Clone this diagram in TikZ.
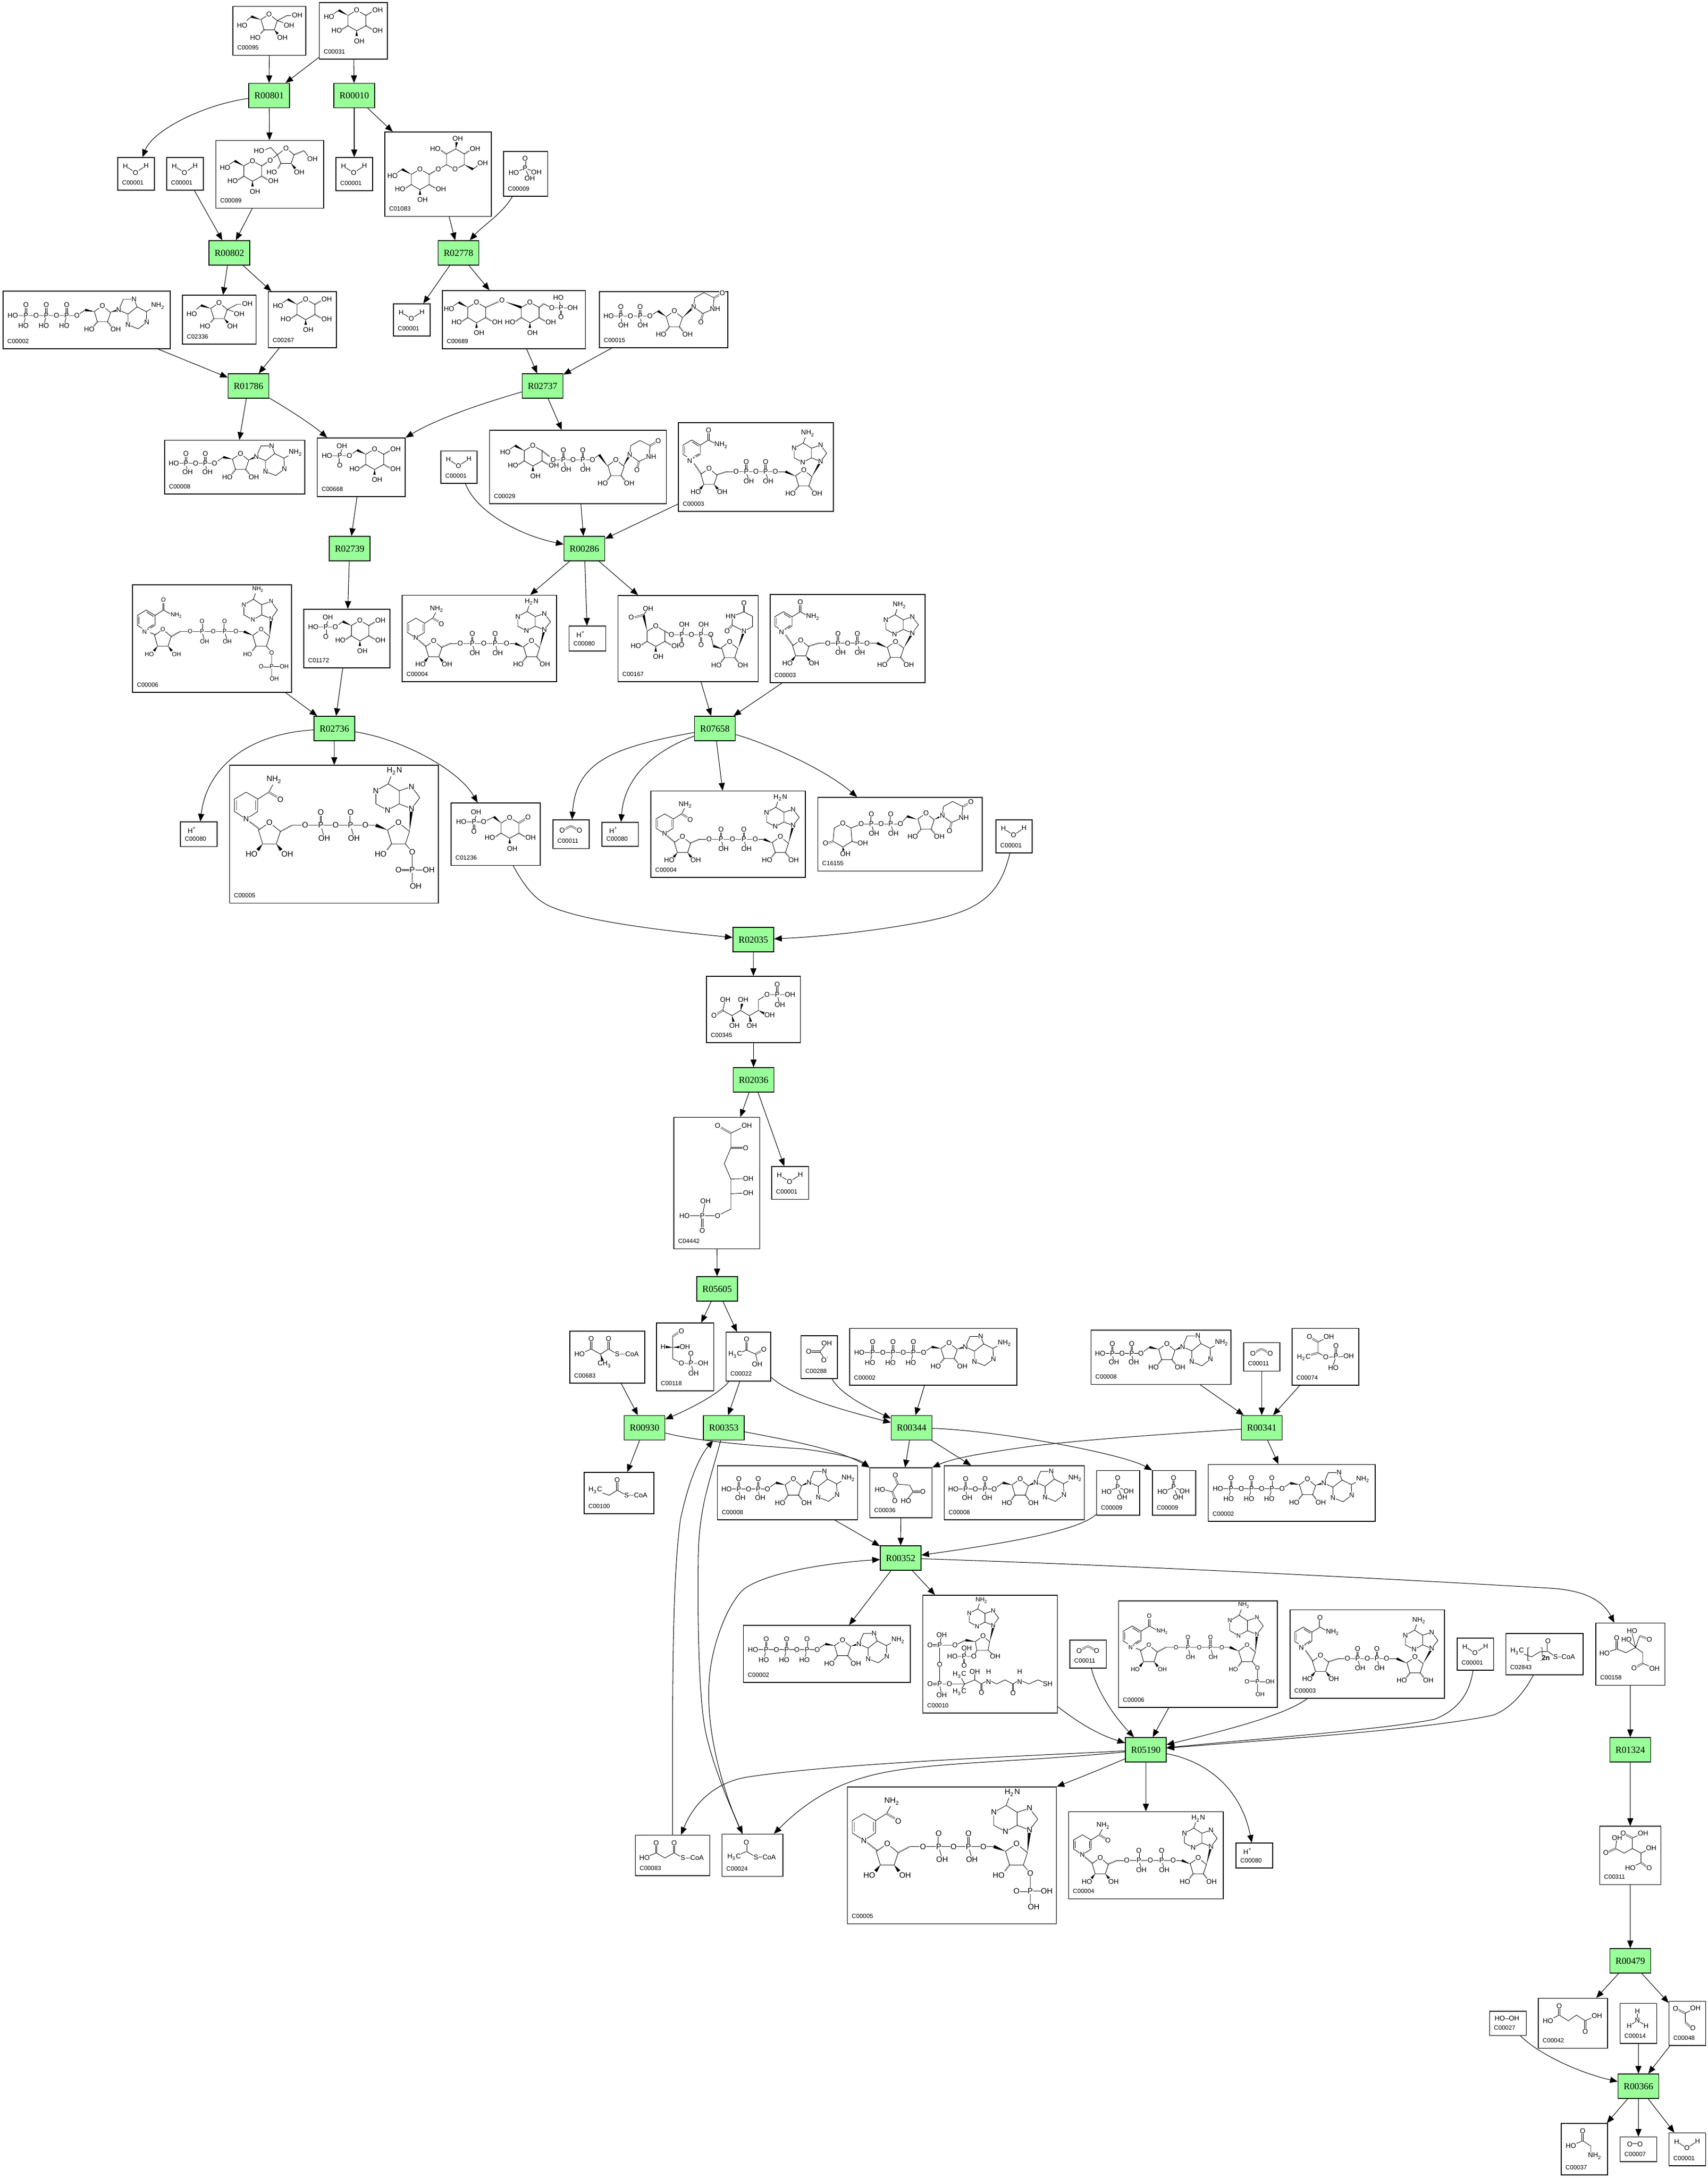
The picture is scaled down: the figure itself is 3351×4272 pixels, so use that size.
\documentclass[tikz,border=0pt]{standalone}
\usepackage{fontspec}
\setmainfont{Liberation Serif}
\setsansfont{Liberation Sans}
\usetikzlibrary{arrows.meta,calc}
\definecolor{rxngreen}{HTML}{99FF99}
\tikzset{
  edge/.style={line width=.3pt,-{Triangle[length=1.5mm,width=1.2mm]}},
  rxn/.style={draw,line width=.4pt,fill=rxngreen,minimum width=.8cm,minimum height=.48cm,inner sep=0pt,font=\fontsize{5.2}{6}\selectfont},
  cpdbox/.style={draw,line width=.4pt,fill=white,inner sep=0pt},
  cpdid/.style={inner sep=0pt,font=\fontsize{3.4}{4}\selectfont\sffamily},
  atom/.style={fill=white,inner sep=.15pt,transform shape,font=\fontsize{3.85}{4}\selectfont\sffamily},
  bnd/.style={line width=.25pt},
  dblb/.style={double,double distance=.5pt,line width=.2pt},
  hashb/.style={line width=.7pt,dash pattern=on .2pt off .3pt}
}
\newcounter{atmno}
\newcommand\atm[2]{\stepcounter{atmno}\node[atom] (atm\arabic{atmno}) at (#1) {#2};}
\newcommand\dbl[2]{\draw[dblb] (#1)--(#2);}
\newcommand\wdg[2]{\fill (#1)--($(#2)!.7pt!90:(#1)$)--($(#2)!.7pt!-90:(#1)$)--cycle;}
\newcommand\hsh[2]{\draw[hashb] (#1)--(#2);}
\newcommand\molin[3]{\begin{scope}[shift={(\bxa,\bya)},xscale={(\bxb-\bxa)/#1},yscale={(\byb-\bya)/#2}]#3\end{scope}}
\newcommand\cpd[7]{%
  \node[cpdbox,minimum width={(#4-#2)*0.01cm},minimum height={(#5-#3)*0.01cm}] (#1) at ({(#2+#4)/2},{(#3+#5)/2}) {};
  \def\bxa{#2}\def\bya{#3}\def\bxb{#4}\def\byb{#5}#7
  \node[cpdid,anchor=base west] (#1id) at ({#2+8},{#5-11}) {#6};}
\newcommand\NHtwo{NH\textsubscript{2}}
\newcommand\HtwoN{H\textsubscript{2}N}
% ring pieces
\newcommand\frGlcC[2]{\begin{scope}[shift={(#1,#2)}]
  \draw[bnd] (0,0)--(18,10)--(18,30)--(0,40)--(-17,30)--(-17,10)--cycle;
  \hsh{18,30}{30,37}\wdg{0,40}{0,50}\hsh{-17,30}{-28,37}
  \atm{0,0}{O}\atm{41,39}{OH}\atm{5,60}{OH}\atm{-39,39}{HO}\end{scope}}
\newcommand\frGlc[2]{\frGlcC{#1}{#2}\begin{scope}[shift={(#1,#2)}]\hsh{18,10}{30,3}\atm{41,0}{OH}\end{scope}}
\newcommand\frChOH[2]{\begin{scope}[shift={(#1,#2)}]\wdg{-17,10}{-35,0}\draw[bnd] (-35,0)--(-45,7);\atm{-54,13}{HO}\end{scope}}
\newcommand\frRibL[3]{\begin{scope}[shift={(#1,#2)}]
  \draw[bnd] (0,0)--(16,13)--(10,31)--(-10,31)--(-16,11)--cycle;
  #3{-10,31}{-17,40}\atm{0,0}{O}\atm{-26,46}{HO}\end{scope}}
\newcommand\frRib[3]{\frRibL{#1}{#2}{#3}\begin{scope}[shift={(#1,#2)}]#3{10,31}{17,40}\atm{26,46}{OH}\end{scope}}
\newcommand\frAdnV[3]{\begin{scope}[shift={(#1,#2)}]
  \draw[bnd] (0,0)--(12,-16)--(0,-32)--(-18,-26)--(-18,-7)--cycle (-18,-26)--(-34,-36)--(-52,-26)--(-52,-7)--(-35,2)--(-18,-7) (-34,-36)--(-30,-47);
  \atm{0,0}{N}\atm{0,-32}{N}\atm{-52,-26}{N}\atm{-35,2}{N}\atm{-25,-55}{#3}\end{scope}}
\newcommand\frAdnH[2]{\begin{scope}[shift={(#1,#2)}]
  \draw[bnd] (0,0)--(9,-21)--(30,-21)--(36,-6)--(18,8)--cycle (36,-6)--(54,3)--(55,24)--(38,37)--(18,29)--(18,8) (54,3)--(67,-4);
  \atm{0,0}{N}\atm{30,-21}{N}\atm{55,24}{N}\atm{18,29}{N}\atm{77,-8}{\NHtwo}\end{scope}}
\newcommand\frUraH[2]{\begin{scope}[shift={(#1,#2)}]
  \draw[bnd] (0,0)--(2,-18)--(20,-28)--(40,-18)--(38,4)--(18,13)--cycle;\dbl{40,-18}{51,-24}\dbl{18,13}{15,25}
  \atm{0,0}{N}\atm{42,4}{NH}\atm{56,-27}{O}\atm{14,30}{O}\end{scope}}
\newcommand\frPP[3]{\begin{scope}[shift={(#1,#2)}]
  \draw[bnd] (0,0)--(#3*77,0) (#3*20,0)--(#3*20+4,14) (#3*58,0)--(#3*58+4,14);\dbl{#3*20,0}{#3*20,-14}\dbl{#3*58,0}{#3*58,-14}
  \atm{0,0}{O}\atm{#3*20,0}{P}\atm{#3*20,-19}{O}\atm{#3*20+5,19}{OH}\atm{#3*39,0}{O}\atm{#3*58,0}{P}\atm{#3*58,-19}{O}\atm{#3*58+5,19}{OH}\atm{#3*77,0}{O}\end{scope}}
\newcommand\frPPr[3]{\begin{scope}[shift={(#1,#2)}]
  \draw[bnd] (0,0)--(#3*77,0) (#3*20,0)--(#3*20+4,-14) (#3*58,0)--(#3*58+4,-14);\dbl{#3*20,0}{#3*20,14}\dbl{#3*58,0}{#3*58,14}
  \atm{0,0}{O}\atm{#3*20,0}{P}\atm{#3*20,20}{O}\atm{#3*20+5,-20}{OH}\atm{#3*39,0}{O}\atm{#3*58,0}{P}\atm{#3*58,20}{O}\atm{#3*58+5,-20}{OH}\atm{#3*77,0}{O}\end{scope}}
\newcommand\frNicOx[2]{\begin{scope}[shift={(#1,#2)}]
  \draw[bnd] (0,0)--(-17,-11)--(-17,-29)--(0,-39)--(17,-29)--(17,-11)--cycle (-14,-13)--(-14,-27) (1,-35)--(14,-27) (3,-5)--(14,-12) (17,-29)--(33,-39)--(46,-32);\dbl{33,-39}{33,-52}
  \atm{0,0}{N\textsuperscript{+}}\atm{33,-58}{O}\atm{58,-29}{\NHtwo}\end{scope}}
\newcommand\frNicRd[2]{\begin{scope}[shift={(#1,#2)}]
  \draw[bnd] (0,0)--(-17,-11)--(-17,-29)--(0,-39)--(17,-29)--(17,-11)--cycle (-14,-13)--(-14,-27) (14,-27)--(14,-13) (17,-29)--(33,-39)--(39,-50);\dbl{33,-39}{45,-32}
  \atm{0,0}{N}\atm{50,-28}{O}\atm{41,-57}{\NHtwo}\end{scope}}
% molecules
\newcommand\mWater{\molin{72}{65}{\draw[bnd] (15,17)--(35,30)--(56,16);\atm{15,17}{H}\atm{35,30}{O}\atm{56,16}{H}}}
\newcommand\mPi{\molin{86}{88}{\dbl{42,14}{42,33}\draw[bnd] (20,42)--(42,33)--(64,41) (42,33)--(51,53);\atm{42,14}{O}\atm{42,33}{P}\atm{20,42}{HO}\atm{64,41}{OH}\atm{51,53}{OH}}}
\newcommand\mCO{\molin{71}{56}{\dbl{18,21}{35,12}\dbl{35,12}{52,21}\atm{18,21}{O}\atm{52,21}{O}}}
\newcommand\mH{\molin{72}{48}{\atm{23,16}{H\textsuperscript{+}}}}
\newcommand\mGlc{\molin{133}{110}{\frGlc{73}{15}\frChOH{73}{15}}}
\newcommand\mFru{\molin{143}{96}{\draw[bnd] (71,15)--(87,28)--(81,46)--(61,46)--(55,26)--cycle (36,20)--(27,28) (87,28)--(99,32) (87,28)--(106,18)--(114,18);
  \wdg{55,26}{36,20}\hsh{61,46}{54,54}\wdg{81,46}{88,54}
  \atm{71,15}{O}\atm{18,37}{HO}\atm{44,61}{HO}\atm{97,61}{OH}\atm{110,37}{OH}\atm{126,17}{OH}}}
\newcommand\mSuc{\molin{212}{133}{\frGlcC{72}{40}\frChOH{72}{40}\hsh{90,50}{102,42}\draw[bnd] (138,15)--(121,28)--(128,45)--(148,45)--(154,28)--cycle (107,39)--(121,28)--(108,14)--(97,18) (173,20)--(181,30);
  \hsh{128,45}{122,55}\wdg{148,45}{156,55}\hsh{154,28}{173,20}
  \atm{107,39}{O}\atm{138,15}{O}\atm{85,20}{HO}\atm{110,62}{HO}\atm{164,62}{OH}\atm{190,36}{OH}}}
\newcommand\mTre{\molin{209}{165.5}{\draw[bnd] (138,73)--(121,64)--(121,43)--(139,33)--(156,43)--(156,64)--cycle (173,73)--(183,65) (105,73)--(121,64);
  \wdg{139,33}{141,20}\hsh{121,43}{110,36}\hsh{156,43}{167,36}\wdg{156,64}{173,73}
  \atm{138,73}{O}\atm{143,13}{OH}\atm{99,33}{HO}\atm{177,33}{OH}\atm{192,61}{OH}
  \frGlcC{69}{73}\frChOH{69}{73}\hsh{87,83}{99,76}\atm{105,73}{O}}}
\newcommand\mTreP{\molin{281}{114}{\frGlcC{67}{23}\frChOH{67}{23}\hsh{85,33}{110,22}\wdg{124,22}{155,33}\atm{117,19}{O}
  \frGlcC{172}{23}\hsh{190,33}{199,26}\draw[bnd] (199,26)--(215,34)--(256,34) (233,34)--(230,22);\dbl{233,34}{233,47}
  \atm{215,34}{O}\atm{233,34}{P}\atm{256,34}{OH}\atm{228,14}{HO}\atm{233,52}{O}}}
\newcommand\frPiL[2]{\begin{scope}[shift={(#1,#2)}]\draw[bnd] (0,0)--(-45,0) (-19,0)--(-15,-12);\dbl{-19,0}{-19,14}\atm{0,0}{O}\atm{-19,0}{P}\atm{-44,0}{HO}\atm{-15,-19}{OH}\atm{-19,19}{O}\end{scope}}
\newcommand\mGsixP{\molin{172}{115}{\frGlc{112}{22}\wdg{95,32}{78,24}\draw[bnd] (78,24)--(63,35);\frPiL{63}{35}}}
\newcommand\mLac{\molin{175}{122}{\frGlcC{115}{29}\dbl{133,39}{146,31}\atm{151,28}{O}\wdg{98,39}{84,27}\draw[bnd] (84,27)--(64,37);\frPiL{64}{37}}}
\newcommand\mATP{\molin{328}{113}{\draw[bnd] (19,48)--(145,48) (45,48)--(41,62) (85,48)--(81,62) (125,48)--(121,62) (145,48)--(161,37);
  \dbl{45,48}{45,33}\dbl{85,48}{85,33}\dbl{125,48}{125,33}\wdg{179,40}{161,37}\wdg{211,41}{227,37}
  \frRib{195}{29}{\hsh}\frAdnH{227}{37}
  \atm{19,48}{HO}\atm{45,48}{P}\atm{45,27}{O}\atm{40,68}{HO}\atm{65,48}{O}\atm{85,48}{P}\atm{85,27}{O}\atm{80,68}{HO}\atm{105,48}{O}\atm{125,48}{P}\atm{125,27}{O}\atm{120,68}{HO}\atm{145,48}{O}}}
\newcommand\mADP{\molin{275}{105}{\draw[bnd] (18,45)--(98,45) (42,45)--(44,57) (80,45)--(82,57) (98,45)--(115,33);
  \dbl{42,45}{42,32}\dbl{80,45}{80,32}\wdg{133,37}{115,33}\wdg{164,39}{180,32}
  \frRib{149}{26}{\hsh}\frAdnH{180}{32}
  \atm{18,45}{HO}\atm{42,45}{P}\atm{42,26}{O}\atm{45,62}{OH}\atm{61,45}{O}\atm{80,45}{P}\atm{80,26}{O}\atm{84,62}{OH}\atm{98,45}{O}}}
\newcommand\mNAD{\molin{304}{174}{\hsh{26,73}{45,101}\hsh{76,102}{95,96}\draw[bnd] (95,96)--(113,96) (190,96)--(210,96);\wdg{230,105}{210,96}\wdg{262,106}{279,76}
  \frNicOx{26}{73}\frRib{60}{90}{\wdg}\frPP{113}{96}{1}\frRib{246}{93}{\hsh}\frAdnV{279}{76}{\NHtwo}}}
\newcommand\mNADH{\molin{303}{170}{\hsh{27,84}{47,101}\hsh{78,102}{95,95}\draw[bnd] (95,95)--(114,95) (205,95)--(222,95);\wdg{238,102}{222,95}\wdg{270,103}{279,68}
  \frNicRd{27}{84}\frRib{62}{90}{\wdg}\frPP{114}{95}{1.18}\frRib{254}{90}{\hsh}\frAdnV{279}{68}{\HtwoN}}}
\newcommand\mNADPH[5]{\molin{304}{200}{\begin{scope}[atom/.append style={scale=.84}]\hsh{#2,#3}{44,93}\hsh{74,96}{91,87}\draw[bnd] (91,87)--(110,87) (198,87)--(213,87) (256,114)--(266,126)--(266,170) (266,152)--(290,152);\wdg{230,94}{213,87}\wdg{262,96}{265,63}\dbl{266,152}{248,152}
  #1{#2}{#3}\frRib{58}{83}{\wdg}\frPP{110}{87}{1.14}\frRibL{246}{83}{\hsh}\frAdnV{265}{63}{#4}
  \atm{266,126}{O}\atm{266,152}{P}\atm{246,152}{O}\atm{290,152}{OH}\atm{271,175}{OH}\end{scope}}}
\newcommand\mUDP{\molin{252}{110}{\draw[bnd] (18,48)--(99,48) (42,48)--(44,60) (80,48)--(82,60) (99,48)--(115,38);\dbl{42,48}{42,36}\dbl{80,48}{80,36}\wdg{131,49}{115,38}\wdg{163,51}{185,30}
  \frRib{147}{38}{\hsh}\frUraH{185}{30}\atm{18,48}{HO}\atm{42,48}{P}\atm{42,30}{O}\atm{47,66}{OH}\atm{61,48}{O}\atm{80,48}{P}\atm{80,30}{O}\atm{85,66}{OH}\atm{99,48}{O}}}
\newcommand\mUDPG{\molin{347}{144}{\frGlcC{85}{30}\frChOH{85}{30}\hsh{103,40}{118,52}\draw[bnd] (202,58)--(215,48);\wdg{232,71}{215,48}\wdg{262,71}{275,48}
  \frPP{125}{58}{1}\frRib{248}{58}{\hsh}\frUraH{275}{48}}}
\newcommand\mUDPA{\molin{275}{169}{\frGlcC{74}{60}\wdg{57,70}{50,38}\dbl{50,38}{33,43}\draw[bnd] (50,38)--(57,29);\hsh{92,70}{100,75}\atm{26,43}{O}\atm{59,26}{OH}
  \frPPr{105}{77}{1}\draw[bnd] (182,77)--(187,99);\wdg{205,105}{187,99}\wdg{236,103}{247,70}\frRib{219}{91}{\hsh}
  \draw[bnd] (247,70)--(224,58)--(224,41)--(247,32)--(264,41)--(264,61)--cycle;\dbl{224,58}{214,70}\dbl{247,32}{247,20}
  \atm{247,70}{N}\atm{221,41}{HN}\atm{214,70}{O}\atm{247,15}{O}}}
\newcommand\mUDPX{\molin{322}{144}{\draw[bnd] (49,51)--(65,60)--(67,86)--(49,97)--(30,86)--(32,60)--cycle (162,52)--(175,37) (65,60)--(85,52);\dbl{30,86}{19,89}\hsh{67,86}{78,89}\wdg{49,97}{50,104}
  \atm{49,51}{O}\atm{15,89}{O}\atm{88,89}{OH}\atm{54,110}{OH}\frPP{85}{52}{1}\wdg{194,43}{175,37}\wdg{228,43}{244,36}\frRib{212}{31}{\hsh}\frUraH{244}{36}}}
\newcommand\mOxa{\molin{122}{98}{\dbl{55,32}{50,20}\draw[bnd] (44,47)--(55,32)--(78,34)--(85,47)--(75,60) (44,47)--(28,43);\dbl{85,47}{98,47}\dbl{44,47}{49,60}
  \atm{50,15}{O}\atm{104,47}{O}\atm{71,65}{HO}\atm{20,43}{HO}\atm{49,65}{O}}}
\newcommand\mPyr{\molin{87.5}{96}{\dbl{40,35}{40,20}\draw[bnd] (18,44)--(40,35)--(58,43)--(61,57);\dbl{58,43}{70,36}\atm{40,14}{O}\atm{18,44}{H\textsubscript{3}C}\atm{74,34}{O}\atm{61,63}{OH}}}
\newcommand\mGap{\molin{113}{133}{\dbl{32,26}{45,18}\draw[bnd] (32,26)--(32,70)--(49,79)--(92,79) (68,79)--(73,99);\wdg{32,48}{18,47}\wdg{32,48}{47,47}\dbl{68,79}{68,65}
  \atm{49,16}{O}\atm{13,47}{H}\atm{56,47}{OH}\atm{49,79}{O}\atm{68,79}{P}\atm{68,60}{O}\atm{92,79}{OH}\atm{73,99}{OH}}}
\newcommand\mBic{\molin{71}{84}{\draw[bnd] (50,15)--(37,31)--(47,48);\dbl{37,31}{18,31}\atm{50,15}{OH}\atm{15,31}{O}\atm{47,48}{O\textsuperscript{-}}}}
\newcommand\mMalCoA{\molin{147}{102}{\draw[bnd] (19,45)--(42,35)--(60,45)--(76,35)--(93,45)--(122,45);\dbl{42,35}{42,20}\dbl{76,35}{76,20}\wdg{60,45}{64,58}
  \atm{42,15}{O}\atm{19,45}{HO}\atm{76,15}{O}\atm{93,45}{S}\atm{122,45}{CoA}\atm{68,65}{CH\textsubscript{3}}}}
\newcommand\mPrCoA{\molin{137}{81}{\draw[bnd] (22,35)--(49,45)--(65,35)--(83,45)--(111,45);\dbl{65,35}{65,20}\atm{22,35}{H\textsubscript{3}C}\atm{65,15}{O}\atm{83,45}{S}\atm{111,45}{CoA}}}
\newcommand\mAcCoA{\molin{120}{83}{\draw[bnd] (24,45)--(48,34)--(67,45)--(93,45);\dbl{48,34}{48,21}\atm{24,45}{H\textsubscript{3}C}\atm{48,16}{O}\atm{67,45}{S}\atm{93,45}{CoA}}}
\newcommand\mMalo{\molin{146}{80}{\draw[bnd] (18,45)--(41,35)--(58,45)--(76,35)--(93,45)--(121,45);\dbl{41,35}{41,20}\dbl{76,35}{76,20}\atm{41,15}{O}\atm{18,45}{HO}\atm{76,15}{O}\atm{93,45}{S}\atm{121,45}{CoA}}}
\newcommand\mFatCoA{\molin{151}{81}{\draw[bnd] (22,35)--(50,46)--(66,36)--(82,35)--(97,46)--(122,46) (47,28)--(43,28)--(43,53)--(47,53) (67,28)--(71,28)--(71,53)--(67,53);\dbl{82,35}{82,20}
  \atm{22,35}{H\textsubscript{3}C}\atm{82,15}{O}\atm{97,46}{S}\atm{122,46}{CoA}\atm{78,48}{\bfseries 2n}}}
\newcommand\mPEP{\molin{131}{112}{\draw[bnd] (51,27)--(72,16) (51,27)--(51,48)--(66,57)--(111,55) (86,55)--(81,72);\dbl{51,27}{36,18}\dbl{51,48}{31,54}\dbl{86,55}{86,40}
  \atm{34,16}{O}\atm{72,16}{OH}\atm{23,57}{H\textsubscript{2}C}\atm{66,57}{O}\atm{86,55}{P}\atm{86,34}{O}\atm{111,55}{OH}\atm{81,78}{HO}}}
\newcommand\mCit{\molin{135.6}{122}{\draw[bnd] (78,48)--(71,20) (78,48)--(60,32) (78,48)--(86,25) (78,48)--(59,58)--(41,51)--(17,59) (78,48)--(92,58)--(92,79)--(115,89);\dbl{86,25}{100,30}\dbl{41,51}{41,34}\dbl{92,79}{78,87}
  \atm{71,15}{HO}\atm{105,32}{O}\atm{60,32}{HO}\atm{41,29}{O}\atm{17,59}{HO}\atm{75,88}{O}\atm{115,89}{OH}}}
\newcommand\mIso{\molin{120}{115}{\draw[bnd] (34,23)--(31,44)--(48,53)--(64,44)--(64,23)--(85,14) (64,44)--(81,53)--(101,43) (81,53)--(81,72)--(60,82);\dbl{31,44}{16,51}\dbl{64,23}{50,16}\dbl{81,72}{93,80}
  \atm{34,23}{OH}\atm{12,52}{O}\atm{46,14}{O}\atm{85,14}{OH}\atm{101,43}{OH}\atm{60,82}{HO}\atm{97,82}{O}}}
\newcommand\mSuccA{\molin{136}{98}{\draw[bnd] (19,44)--(41,33)--(59,44)--(75,33)--(92,44)--(115,34);\dbl{41,33}{41,20}\dbl{92,44}{92,60}\atm{41,15}{O}\atm{19,44}{HO}\atm{115,34}{OH}\atm{92,65}{O}}}
\newcommand\mNHthree{\molin{72}{78}{\draw[bnd] (34,15)--(34,33)--(18,44) (34,33)--(51,44);\atm{34,15}{H}\atm{34,33}{N}\atm{18,44}{H}\atm{51,44}{H}}}
\newcommand\mGlyox{\molin{72.4}{86}{\draw[bnd] (32,23)--(52,13) (32,23)--(32,41);\dbl{32,23}{17,16}\dbl{32,41}{43,50}\atm{13,14}{O}\atm{52,13}{OH}\atm{47,52}{O}}}
\newcommand\mPerox{\molin{72}{48}{\atm{34,14}{HO--OH}}}
\newcommand\mGly{\molin{91}{101}{\draw[bnd] (19,44)--(42,34)--(58,44)--(58,56);\dbl{42,34}{42,20}\atm{42,15}{O}\atm{19,44}{HO}\atm{66,64}{\NHtwo}}}
\newcommand\mOtwo{\molin{72}{48}{\dbl{19,14}{39,14}\atm{19,14}{O}\atm{39,14}{O}}}
\newcommand\mPGA{\molin{184.6}{130}{\draw[bnd] (37,46)--(32,67)--(50,77)--(67,67)--(84,77)--(102,67)--(102,46)--(119,36)--(164,36) (139,36)--(144,56);\dbl{32,67}{19,75}\wdg{50,77}{53,89}\wdg{67,67}{70,54}\wdg{84,77}{87,89}\wdg{102,67}{114,73}\dbl{139,36}{139,21}
  \atm{15,77}{O}\atm{37,46}{OH}\atm{55,97}{OH}\atm{72,46}{OH}\atm{89,97}{OH}\atm{124,76}{OH}\atm{119,36}{O}\atm{139,36}{P}\atm{139,16}{O}\atm{164,36}{OH}\atm{144,56}{OH}}}
\newcommand\mKDP{\molin{168.6}{258}{\draw[bnd] (143,16)--(112,31)--(112,60)--(99,91)--(112,121)--(146,120) (112,121)--(112,180)--(86,193)--(21,193) (112,150)--(146,148) (56,193)--(62,164);\dbl{112,31}{92,20}\dbl{112,60}{135,60}\dbl{56,193}{56,215}
  \atm{86,16}{O}\atm{143,16}{OH}\atm{141,60}{O}\atm{146,120}{OH}\atm{146,148}{OH}\atm{86,193}{O}\atm{56,193}{P}\atm{62,164}{OH}\atm{21,193}{HO}\atm{56,222}{O}}}
\newcommand\mCoA{\molin{264}{231}{\wdg{131,92}{139,59}\begin{scope}[shift={(138,59)},scale=.9]\frAdnV{0}{0}{\NHtwo}\end{scope}
  \draw[bnd] (118,80)--(131,91)--(128,108)--(106,108)--(103,91)--cycle (128,108)--(142,120) (106,108)--(100,120)--(58,120) (81,120)--(86,104) (33,98)--(33,174)--(82,174) (33,98)--(63,98)--(84,88) (33,98)--(37,78) (33,174)--(37,196) (82,174)--(72,156) (82,174)--(72,190) (82,174)--(102,166)--(115,174)--(129,166)--(145,174)--(161,166)--(177,174)--(190,166)--(208,174)--(226,166)--(245,174) (102,166)--(102,150);
  \wdg{103,91}{84,88}\dbl{33,98}{14,98}\dbl{33,174}{14,174}\dbl{81,120}{81,134}\dbl{115,174}{115,187}\dbl{177,174}{177,187}
  \atm{118,80}{O}\atm{142,120}{OH}\atm{100,120}{O}\atm{81,120}{P}\atm{58,120}{HO}\atm{86,104}{OH}\atm{81,138}{O}\atm{63,98}{O}\atm{33,98}{P}\atm{14,98}{O}\atm{37,78}{OH}\atm{33,136}{O}\atm{33,174}{P}\atm{14,174}{O}\atm{37,196}{OH}\atm{52,174}{O}\atm{72,156}{H\textsubscript{3}C}\atm{72,190}{H\textsubscript{3}C}\atm{102,150}{OH}\atm{115,191}{O}\atm{129,160}{\shortstack{H\\N}}\atm{177,192}{O}\atm{190,160}{\shortstack{H\\N}}\atm{245,174}{SH}}}
\begin{document}
\begin{tikzpicture}[x=0.01cm,y=-0.01cm]
\useasboundingbox (0,0) rectangle (3351,4272);
% compounds
\cpd{c95}{457}{12.5}{600}{108.5}{C00095}{\mFru}
\cpd{c31}{626.5}{5}{760}{116}{C00031}{\mGlc}
\cpd{c89}{423.5}{275.5}{635}{408.5}{C00089}{\mSuc}
\cpd{c1a}{231}{309}{303}{373}{C00001}{\mWater}
\cpd{c1b}{327}{309}{399}{373}{C00001}{\mWater}
\cpd{c1c}{659}{309}{731}{374}{C00001}{\mWater}
\cpd{c1083}{755}{259}{964}{424.5}{C01083}{\mTre}
\cpd{c9a}{988}{297}{1074.5}{385}{C00009}{\mPi}
\cpd{c267}{526.5}{572}{660}{682}{C00267}{\mGlc}
\cpd{c2336}{358}{579}{502.5}{675}{C02336}{\mFru}
\cpd{c1d}{772}{596}{844}{659}{C00001}{\mWater}
\cpd{c689}{868}{570}{1148.5}{684}{C00689}{\mTreP}
\cpd{c15}{1176}{572}{1428}{682}{C00015}{\mUDP}
\cpd{c2a}{6}{571}{334}{684}{C00002}{\mATP}
\cpd{c8a}{323}{863.5}{598}{969}{C00008}{\mADP}
\cpd{c668}{622.5}{859}{795}{974}{C00668}{\mGsixP}
\cpd{c1e}{865}{884.5}{936}{948}{C00001}{\mWater}
\cpd{c29}{960.5}{844}{1307.5}{988}{C00029}{\mUDPG}
\cpd{c3a}{1331}{829}{1635}{1003}{C00003}{\mNAD}
\cpd{c6a}{260}{1147}{572}{1358}{C00006}{\mNADPH{\frNicOx}{26}{86}{\NHtwo}{}}
\cpd{c1172}{596}{1195}{765}{1310}{C01172}{\mGsixP}
\cpd{c4a}{789}{1167.5}{1092}{1337}{C00004}{\mNADH}
\cpd{c80a}{1116.5}{1228}{1188.5}{1277}{C00080}{\mH}
\cpd{c167}{1212.5}{1168}{1487.5}{1337}{C00167}{\mUDPA}
\cpd{c3b}{1511}{1166}{1815}{1339}{C00003}{\mNAD}
\cpd{c80b}{354}{1612}{426}{1660.5}{C00080}{\mH}
\cpd{c5a}{450.5}{1501}{860}{1771.5}{C00005}{\mNADPH{\frNicRd}{24}{78}{\HtwoN}{}}
\cpd{c1236}{885}{1575}{1060}{1697.5}{C01236}{\mLac}
\cpd{c11a}{1085}{1608}{1156}{1664.5}{C00011}{\mCO}
\cpd{c80c}{1181}{1613}{1252.5}{1660}{C00080}{\mH}
\cpd{c4b}{1277}{1551.5}{1580}{1721}{C00004}{\mNADH}
\cpd{c16155}{1604.5}{1564}{1927}{1708.5}{C16155}{\mUDPX}
\cpd{c1f}{1954}{1608}{2025}{1673}{C00001}{\mWater}
\cpd{c345}{1386}{1915}{1570.5}{2045}{C00345}{\mPGA}
\cpd{c4442}{1322}{2191.5}{1490.5}{2449.5}{C04442}{\mKDP}
\cpd{c1g}{1514}{2288}{1586.5}{2352.5}{C00001}{\mWater}
\cpd{c118}{1288}{2595}{1400.5}{2728}{C00118}{\mGap}
\cpd{c22}{1424.5}{2613}{1512}{2709}{C00022}{\mPyr}
\cpd{c683}{1118}{2611}{1265}{2713}{C00683}{\mMalCoA}
\cpd{c288}{1571.5}{2620}{1643}{2704}{C00288}{\mBic}
\cpd{c2b}{1667}{2605.5}{1995}{2717}{C00002}{\mATP}
\cpd{c100}{1146}{2888}{1283}{2969}{C00100}{\mPrCoA}
\cpd{c36}{1706.5}{2879}{1828.5}{2977}{C00036}{\mOxa}
\cpd{c8b}{1407.5}{2875}{1682.5}{2981}{C00008}{\mADP}
\cpd{c8c}{1852.5}{2875}{2127.5}{2981}{C00008}{\mADP}
\cpd{c8d}{2140.5}{2609}{2415}{2715.5}{C00008}{\mADP}
\cpd{c11b}{2440}{2633.5}{2511}{2689.5}{C00011}{\mCO}
\cpd{c74}{2535}{2605.5}{2666}{2717}{C00074}{\mPEP}
\cpd{c9b}{2151.5}{2884.5}{2236}{2972}{C00009}{\mPi}
\cpd{c9c}{2261}{2884.5}{2346}{2972}{C00009}{\mPi}
\cpd{c2c}{2370.5}{2872.5}{2698}{2984}{C00002}{\mATP}
\cpd{c2d}{1458.5}{3188}{1786}{3300}{C00002}{\mATP}
\cpd{c10}{1810.5}{3129}{2074.5}{3360}{C00010}{\mCoA}
\cpd{c11c}{2099}{3217}{2170.5}{3272}{C00011}{\mCO}
\cpd{c6b}{2194.5}{3140}{2506}{3349}{C00006}{\mNADPH{\frNicOx}{26}{86}{\NHtwo}{}}
\cpd{c3c}{2531}{3157.5}{2834}{3331}{C00003}{\mNAD}
\cpd{c1h}{2859}{3213}{2930.5}{3276}{C00001}{\mWater}
\cpd{c2843}{2954.5}{3204}{3106}{3285}{C02843}{\mFatCoA}
\cpd{c158}{3131}{3183.5}{3266.5}{3305.5}{C00158}{\mCit}
\cpd{c83}{1246.5}{3599.5}{1392.5}{3679}{C00083}{\mMalo}
\cpd{c24}{1416.5}{3597.5}{1536}{3680.5}{C00024}{\mAcCoA}
\cpd{c5b}{1662.5}{3505}{2072.5}{3773.5}{C00005}{\mNADPH{\frNicRd}{24}{78}{\HtwoN}{}}
\cpd{c4c}{2096.5}{3553.5}{2400}{3724.5}{C00004}{\mNADH}
\cpd{c80d}{2425}{3615}{2497}{3664}{C00080}{\mH}
\cpd{c311}{3138.5}{3582}{3258.5}{3696.5}{C00311}{\mIso}
\cpd{c42}{3018}{3919.5}{3154}{4017.5}{C00042}{\mSuccA}
\cpd{c14}{3178.5}{3929.5}{3250.5}{4008}{C00014}{\mNHthree}
\cpd{c48}{3274.5}{3925.5}{3346.5}{4012}{C00048}{\mGlyox}
\cpd{c27}{2922.5}{3945}{2994.5}{3992.5}{C00027}{\mPerox}
\cpd{c37}{3063}{4165}{3154}{4266}{C00037}{\mGly}
\cpd{c7}{3178.5}{4191.5}{3250.5}{4240}{C00007}{\mOtwo}
\cpd{c1i}{3274.5}{4183.5}{3346.5}{4248}{C00001}{\mWater}
% reactions
\foreach \rname/\rx/\ry in {R00801/528/187.5,R00010/695/187.5,R00802/450/496,R02778/899.5/496,R01786/487.5/757,R02737/1064.5/757,R02739/686/1076,R00286/1146.5/1076,R02736/656/1429,R07658/1402.5/1429,R02035/1478/1843,R02036/1478.5/2118,R05605/1407/2528,R00930/1264.5/2800.5,R00353/1420/2800.5,R00344/1788.5/2800.5,R00341/2475.5/2800.5,R00352/1767/3056,R05190/2248/3432,R01324/3198.5/3432,R00479/3198.5/3846,R00366/3214.5/4092}
  \node[rxn] (\rname) at (\rx,\ry) {\rname};
% straight connectors
\foreach \a/\b in {c95/R00801,c31/R00801,c31/R00010,R00801/c89,R00010/c1c,R00010/c1083,c1b/R00802,c89/R00802,c1083/R02778,R00802/c2336,R00802/c267,R02778/c1d,R02778/c689,c2a/R01786,c267/R01786,R01786/c8a,c689/R02737,c15/R02737,R02737/c29,c668/R02739,R02739/c1172,c1172/R02736,c6a/R02736,c29/R00286,c3a/R00286,R00286/c4a,R00286/c80a,R00286/c167,c167/R07658,c3b/R07658,R02736/c5a,R07658/c4b,R02035/c345,c345/R02036,R02036/c4442,R02036/c1g,c4442/R05605,R05605/c118,R05605/c22,c683/R00930,c22/R00353,c2b/R00344,R00930/c100,R00344/c36,R00344/c8c,R00341/c2c,c8d/R00341,c11b/R00341,c74/R00341,c36/R00352,c8b/R00352,R00352/c2d,R00352/c10,c6b/R05190,R05190/c4c,c158/R01324,R01324/c311,c311/R00479,R00479/c42,R00479/c48,c14/R00366,c48/R00366,R00366/c37,R00366/c7,R00366/c1i}
  \draw[edge] (\a)--(\b);
% curved connectors
\draw[edge] (R00801) .. controls (400,205) and (300,255) .. (c1a);
\draw[edge] (c9a) .. controls (985,420) and (950,440) .. (R02778);
\draw[edge] (R01786) .. controls (570,805) and (615,835) .. (c668);
\draw[edge] (R02737) .. controls (950,790) and (860,820) .. (c668.north east);
\draw[edge] (c1e) .. controls (935,1005) and (1020,1050) .. (R00286);
\draw[edge] (R02736) .. controls (480,1440) and (405,1510) .. (c80b);
\draw[edge] (R02736) .. controls (790,1450) and (900,1510) .. (c1236);
\draw[edge] (R07658) .. controls (1210,1465) and (1130,1490) .. (c11a);
\draw[edge] (R07658) .. controls (1290,1470) and (1225,1520) .. (c80c);
\draw[edge] (R07658) .. controls (1510,1460) and (1620,1510) .. (c16155);
\draw[edge] (c1236) .. controls (1030,1740) and (1050,1765) .. (1080,1778) .. controls (1150,1808) and (1300,1825) .. (R02035);
\draw[edge] (c1f) .. controls (1960,1760) and (1920,1790) .. (1790,1812) .. controls (1700,1828) and (1600,1838) .. (R02035);
\draw[edge] (c22) .. controls (1410,2735) and (1350,2765) .. (R00930);
\draw[edge] (c22) .. controls (1550,2735) and (1630,2760) .. (R00344);
\draw[edge] (c288) .. controls (1650,2735) and (1700,2760) .. (R00344);
\draw[edge] (R00930) .. controls (1350,2822) and (1420,2832) .. (1577,2842) .. controls (1620,2848) and (1680,2858) .. (c36.north west);
\draw[edge] (R00353) .. controls (1520,2820) and (1640,2840) .. (c36.north west);
\draw[edge] (R00341) .. controls (2300,2812) and (2100,2825) .. (2000,2840) .. controls (1930,2850) and (1870,2860) .. (c36.north east);
\draw[edge] (R00344) .. controls (1950,2805) and (2200,2850) .. (c9c.north west);
\draw[edge] (c9b) .. controls (2115,3005) and (1950,3030) .. (R00352);
\draw[edge] (c83) .. controls (1319,3300) and (1319,3100) .. (1335,2980) .. controls (1350,2910) and (1370,2860) .. (R00353);
\draw[edge] (R00353) .. controls (1395,2900) and (1372,2950) .. (1370,3050) .. controls (1368,3200) and (1372,3340) .. (1385,3400) .. controls (1400,3470) and (1440,3560) .. (c24);
\draw[edge] (c24) .. controls (1420,3520) and (1385,3400) .. (1391,3300) .. controls (1395,3230) and (1425,3150) .. (1458,3118) .. controls (1500,3085) and (1620,3066) .. (R00352);
\draw[edge] (R00352) .. controls (2200,3070) and (2700,3095) .. (3040,3115) .. controls (3090,3118) and (3140,3130) .. (c158);
\draw[edge] (c10) .. controls (2130,3390) and (2165,3405) .. (R05190);
\draw[edge] (c11c) .. controls (2150,3310) and (2180,3360) .. (R05190);
\draw[edge] (c3c) .. controls (2520,3365) and (2400,3395) .. (R05190);
\draw[edge] (c1h) .. controls (2885,3310) and (2870,3350) .. (2815,3372) .. controls (2720,3392) and (2450,3412) .. (R05190);
\draw[edge] (c2843) .. controls (2990,3320) and (2965,3350) .. (2930,3364) .. controls (2800,3392) and (2500,3412) .. (R05190);
\draw[edge] (R05190) .. controls (2000,3445) and (1650,3458) .. (1470,3485) .. controls (1400,3495) and (1360,3540) .. (c83);
\draw[edge] (R05190) .. controls (2050,3452) and (1900,3455) .. (1790,3468) .. controls (1690,3480) and (1610,3505) .. (c24);
\draw[edge] (R05190) .. controls (2160,3470) and (2110,3490) .. (c5b.north east);
\draw[edge] (R05190) .. controls (2370,3455) and (2435,3510) .. (c80d);
\draw[edge] (c27) .. controls (3020,4030) and (3100,4066) .. (R00366);
\end{tikzpicture}
\end{document}
